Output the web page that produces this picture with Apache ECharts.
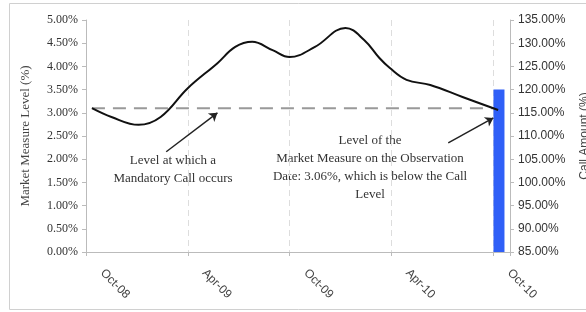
<!DOCTYPE html>
<html>
<head>
<meta charset="utf-8">
<script src="https://cdn.jsdelivr.net/npm/echarts@6/dist/echarts.min.js"></script>
<style>
  html, body { margin: 0; padding: 0; background: #fff; }
  #chart { width: 586px; height: 312px; }
</style>
</head>
<body>
<div id="chart"></div>
<script>
// months after Oct-08 and the market measure level (%)
const monthOffsets = [0.35, 1.5, 3.1, 4.4, 6.0, 7.75, 8.8, 9.8, 11.0, 12.0, 13.5, 15.3, 16.4, 17.3, 17.9, 18.9, 20.3, 22.2, 24.3];
const measureLevels = [3.10, 2.91, 2.74, 2.91, 3.53, 4.07, 4.42, 4.53, 4.35, 4.20, 4.42, 4.83, 4.57, 4.18, 3.97, 3.71, 3.60, 3.34, 3.06];
const callLevel = 3.10;
const callMonths = [0.35, 24.3];
const callAmountMonth = 24.35;
const callAmount = 120;
const tickMonths = [0, 6, 12, 18, 24];
const tickLabels = ["Oct-08", "Apr-09", "Oct-09", "Apr-10", "Oct-10"];

const chart = echarts.init(document.getElementById("chart"));

const serif = "Liberation Serif";
const sans = "Liberation Sans";

chart.setOption({
  animation: false,
  grid: { left: 86, right: 76, top: 20, bottom: 60, outerBoundsMode: "none" },
  graphic: [
    {
      type: "rect",
      shape: { x: 9.5, y: 3.5, width: 600, height: 306 },
      style: { fill: "none", stroke: "#d0d0d0", lineWidth: 1 },
      silent: true
    },
    {
      type: "text",
      x: 173, y: 152,
      style: {
        text: "Level at which a\nMandatory Call occurs",
        font: "13px " + serif,
        fill: "#333",
        align: "center",
        textAlign: "center",
        lineHeight: 18
      }
    },
    {
      type: "text",
      x: 370, y: 132,
      style: {
        text: "Level of the\nMarket Measure on the Observation\nDate: 3.06%, which is below the Call\nLevel",
        font: "13px " + serif,
        fill: "#333",
        align: "center",
        textAlign: "center",
        lineHeight: 18
      }
    }
  ],
  xAxis: {
    type: "value",
    min: 0,
    max: 25,
    interval: 6,
    axisLine: { show: true, lineStyle: { color: "#bbb" } },
    axisTick: { show: true, length: 4, lineStyle: { color: "#bbb" } },
    splitLine: { show: true, lineStyle: { color: "#ddd", type: [6, 4] } },
    axisLabel: {
      rotate: -45,
      margin: 3,
      padding: [0, 0, 0, 23],
      color: "#444",
      fontFamily: sans,
      fontSize: 12,
      formatter: function (v) {
        const i = tickMonths.indexOf(v);
        return i >= 0 ? tickLabels[i] : "";
      }
    }
  },
  yAxis: [
    {
      type: "value",
      min: 0,
      max: 5,
      interval: 0.5,
      name: "Market Measure Level (%)",
      nameLocation: "middle",
      nameRotate: 90,
      nameGap: 54,
      nameTextStyle: { fontFamily: serif, fontSize: 13, color: "#444" },
      axisLine: { show: true, lineStyle: { color: "#bbb" } },
      axisTick: { show: true, length: 4, lineStyle: { color: "#bbb" } },
      splitLine: { show: false },
      axisLabel: {
        color: "#333",
        fontFamily: serif,
        fontSize: 12,
        margin: 8,
        formatter: function (v) { return v.toFixed(2) + "%"; }
      }
    },
    {
      type: "value",
      min: 85,
      max: 135,
      interval: 5,
      position: "right",
      name: "Call Amount (%)",
      nameLocation: "middle",
      nameRotate: 90,
      nameGap: 69,
      nameTextStyle: { fontFamily: sans, fontSize: 12, color: "#444" },
      axisLine: { show: true, lineStyle: { color: "#bbb" } },
      axisTick: { show: true, length: 4, lineStyle: { color: "#bbb" } },
      splitLine: { show: false },
      axisLabel: {
        color: "#333",
        fontFamily: sans,
        fontSize: 12,
        margin: 8,
        formatter: function (v) { return v.toFixed(2) + "%"; }
      }
    }
  ],
  series: [
    {
      name: "Call Level",
      type: "line",
      data: callMonths.map(m => [m, callLevel]),
      symbol: "none",
      lineStyle: { color: "#999", width: 2, type: [13, 8] },
      z: 2,
      markLine: {
        silent: true,
        symbol: ["none", "arrow"],
        symbolSize: 8,
        label: { show: false },
        lineStyle: { color: "#222", width: 1.5, type: "solid" },
        data: [
          [{ coord: [4.73, 2.16] }, { coord: [7.75, 3.0] }],
          [{ coord: [21.36, 2.35] }, { coord: [24.02, 2.89] }]
        ]
      }
    },
    {
      name: "Call Amount",
      type: "bar",
      yAxisIndex: 1,
      data: [[callAmountMonth, callAmount]],
      barWidth: 11,
      clip: true,
      itemStyle: { color: "#2f5ff7" },
      z: 3
    },
    {
      name: "Market Measure",
      type: "line",
      data: monthOffsets.map((m, i) => [m, measureLevels[i]]),
      smooth: 0.4,
      symbol: "none",
      lineStyle: { color: "#111", width: 2 },
      z: 4
    }
  ]
});
</script>
</body>
</html>
